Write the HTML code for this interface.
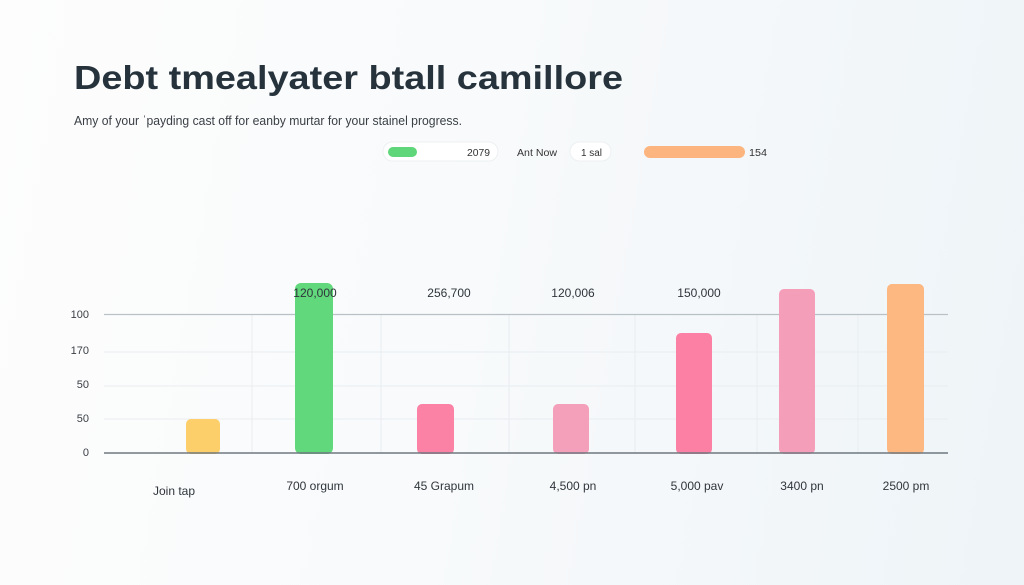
<!DOCTYPE html>
<html><head><meta charset="utf-8"><style>
html,body{margin:0;padding:0;width:1024px;height:585px;overflow:hidden;}
body{background:linear-gradient(100deg,#fdfdfd 0%,#f8fafb 45%,#eef4f8 100%);}
svg{display:block;font-family:"Liberation Sans",sans-serif;}
</style></head><body>
<svg width="1024" height="585" viewBox="0 0 1024 585" xmlns="http://www.w3.org/2000/svg">
<text x="74" y="89" font-size="33" font-weight="bold" fill="#26333d" textLength="549" lengthAdjust="spacingAndGlyphs">Debt tmealyater btall camillore</text>
<text x="74" y="125" font-size="13" fill="#3a3f45" textLength="388" lengthAdjust="spacingAndGlyphs">Amy of your ˈpayding cast off for eanby murtar for your stainel progress.</text>

<!-- legend -->
<rect x="383" y="142" width="115" height="19" rx="9.5" fill="#ffffff" stroke="#edf0f2" stroke-width="1"/>
<rect x="388" y="147" width="29" height="10" rx="5" fill="#5fd679"/>
<text x="467" y="156" font-size="10" fill="#333" textLength="23" lengthAdjust="spacingAndGlyphs">2079</text>
<text x="517" y="156" font-size="10" fill="#333" textLength="40" lengthAdjust="spacingAndGlyphs">Ant Now</text>
<rect x="570" y="142" width="41" height="19" rx="9.5" fill="#ffffff" stroke="#edf0f2" stroke-width="1"/>
<text x="581" y="156" font-size="10" fill="#333" textLength="21" lengthAdjust="spacingAndGlyphs">1 sal</text>
<rect x="644" y="146" width="101" height="12" rx="6" fill="#fdb57f"/>
<text x="749" y="156" font-size="10" fill="#333" textLength="18" lengthAdjust="spacingAndGlyphs">154</text>

<!-- grid -->
<g stroke="#e9edf0" stroke-width="1">
<line x1="104" y1="352" x2="948" y2="352"/>
<line x1="104" y1="386" x2="948" y2="386"/>
<line x1="104" y1="419" x2="948" y2="419"/>
<line x1="252" y1="314" x2="252" y2="453"/>
<line x1="381" y1="314" x2="381" y2="453"/>
<line x1="509" y1="314" x2="509" y2="453"/>
<line x1="635" y1="314" x2="635" y2="453"/>
<line x1="757" y1="314" x2="757" y2="453"/>
<line x1="858" y1="314" x2="858" y2="453"/>
</g>
<line x1="104" y1="314.5" x2="948" y2="314.5" stroke="#b9c1c7" stroke-width="1.2"/>

<!-- y labels -->
<g font-size="11" fill="#3a3f45" text-anchor="end">
<text x="89" y="318">100</text>
<text x="89" y="354">170</text>
<text x="89" y="388">50</text>
<text x="89" y="422">50</text>
<text x="89" y="456">0</text>
</g>

<!-- bars -->
<rect x="186" y="419" width="34" height="35" rx="5" fill="#fdcf6b"/>
<rect x="295" y="283" width="38" height="171" rx="6" fill="#62d87c"/>
<rect x="417" y="404" width="37" height="50" rx="5" fill="#fb81a5"/>
<rect x="553" y="404" width="36" height="50" rx="5" fill="#f4a0ba"/>
<rect x="676" y="333" width="36" height="121" rx="5" fill="#fc80a4"/>
<rect x="779" y="289" width="36" height="165" rx="5" fill="#f59eb9"/>
<rect x="887" y="284" width="37" height="170" rx="5" fill="#fdb780"/>

<line x1="104" y1="453" x2="948" y2="453" stroke="#6f7880" stroke-width="1.5"/>

<!-- value labels -->
<g font-size="12" fill="#2f353b" text-anchor="middle">
<text x="315" y="297">120,000</text>
<text x="449" y="297">256,700</text>
<text x="573" y="297">120,006</text>
<text x="699" y="297">150,000</text>
</g>

<!-- x labels -->
<g font-size="12" fill="#2f353b" text-anchor="middle">
<text x="174" y="495">Join tap</text>
<text x="315" y="490">700 orgum</text>
<text x="444" y="490">45 Grapum</text>
<text x="573" y="490">4,500 pn</text>
<text x="697" y="490">5,000 pav</text>
<text x="802" y="490">3400 pn</text>
<text x="906" y="490">2500 pm</text>
</g>
</svg>
</body></html>
